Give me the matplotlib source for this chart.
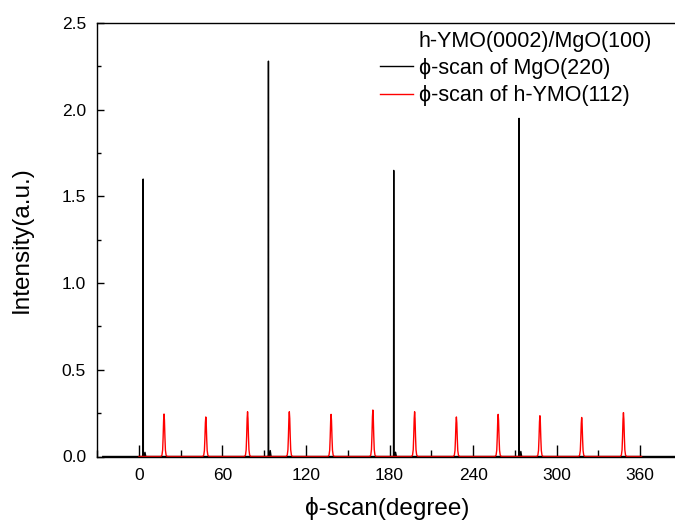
import numpy as np
import matplotlib.pyplot as plt
from matplotlib.ticker import MultipleLocator

plt.rcParams['font.family'] = ['Liberation Sans', 'DejaVu Sans']

# MgO(220) phi-scan: four sharp peaks (deg, intensity)
mgo_pos = [3, 93, 183, 273]
mgo_height = [1.60, 2.28, 1.65, 1.95]

# h-YMO(112) phi-scan: twelve peaks every 30 deg
ymo_pos = [18, 48, 78, 108, 138, 168, 198, 228, 258, 288, 318, 348]
ymo_height = [0.245, 0.228, 0.258, 0.258, 0.243, 0.268,
              0.258, 0.228, 0.243, 0.235, 0.225, 0.253]

# peak profiles (offset in deg, fraction of peak height)
mgo_shape_dx = [-0.5, -0.15, 0.0, 0.15, 0.7, 1.3, 1.9]
mgo_shape_y = [0.0, 0.0, 1.0, 0.0, 0.0, 0.015, 0.0]
ymo_shape_dx = [-2.3, -1.5, -1.0, -0.65, -0.3, 0.0, 0.3, 0.65, 1.0, 1.5, 2.3]
ymo_shape_y = [0.0, 0.03, 0.15, 0.45, 0.85, 1.0, 0.85, 0.45, 0.15, 0.03, 0.0]

mgo_range = (-26, 390)
ymo_range = (0, 361)


def build_scan(positions, heights, dx, fy, span):
    xs = [span[0]]
    ys = [0.0]
    for p, h in zip(positions, heights):
        for d, f in zip(dx, fy):
            xs.append(p + d)
            ys.append(h * f)
    xs.append(span[1])
    ys.append(0.0)
    return np.array(xs), np.array(ys)


x_mgo, y_mgo = build_scan(mgo_pos, mgo_height, mgo_shape_dx, mgo_shape_y, mgo_range)
x_ymo, y_ymo = build_scan(ymo_pos, ymo_height, ymo_shape_dx, ymo_shape_y, ymo_range)

fig = plt.figure(figsize=(6.75, 5.25), dpi=100)
ax = fig.add_axes([97.2 / 675, 68.5 / 525, 1 - 97.2 / 675 + 0.002, 433.5 / 525])

l1, = ax.plot(x_mgo, y_mgo, color='black', lw=1.0, label='ϕ-scan of MgO(220)')
l2, = ax.plot(x_ymo, y_ymo, color='red', lw=1.0, label='ϕ-scan of h-YMO(112)')

ax.set_xlim(-30, 386)
ax.set_ylim(0, 2.5)
ax.spines['right'].set_visible(False)
for s in ['left', 'bottom', 'top']:
    ax.spines[s].set_linewidth(1.0)

ax.xaxis.set_major_locator(MultipleLocator(60))
ax.xaxis.set_minor_locator(MultipleLocator(30))
ax.yaxis.set_major_locator(MultipleLocator(0.5))
ax.yaxis.set_minor_locator(MultipleLocator(0.25))
ax.yaxis.set_major_formatter(plt.FormatStrFormatter('%.1f'))
ax.tick_params(axis='x', which='major', direction='in', length=9, width=1.0,
               labelsize=12.5, pad=8, top=False)
ax.tick_params(axis='x', which='minor', direction='in', length=5, width=1.0, top=False)
ax.tick_params(axis='y', which='major', direction='in', length=5, width=1.0,
               labelsize=12.5, pad=8, right=False)
ax.tick_params(axis='y', which='minor', direction='in', length=3, width=1.0, right=False)

ax.set_xlabel('ϕ-scan(degree)', fontsize=17.5, labelpad=10)
ax.set_ylabel('Intensity(a.u.)', fontsize=17.5, labelpad=21)

leg = ax.legend(handles=[l1, l2], loc='upper left', frameon=False,
                bbox_to_anchor=(380 / 675, 1 - 58 / 525), bbox_transform=fig.transFigure,
                fontsize=15.5, handlelength=1.55, handletextpad=0.25,
                borderpad=0, borderaxespad=0, labelspacing=0.3)
fig.text(418 / 675, 1 - 41 / 525, 'h-YMO(0002)/MgO(100)', fontsize=15.5,
         ha='left', va='center')

fig.savefig('out.png', dpi=100)
